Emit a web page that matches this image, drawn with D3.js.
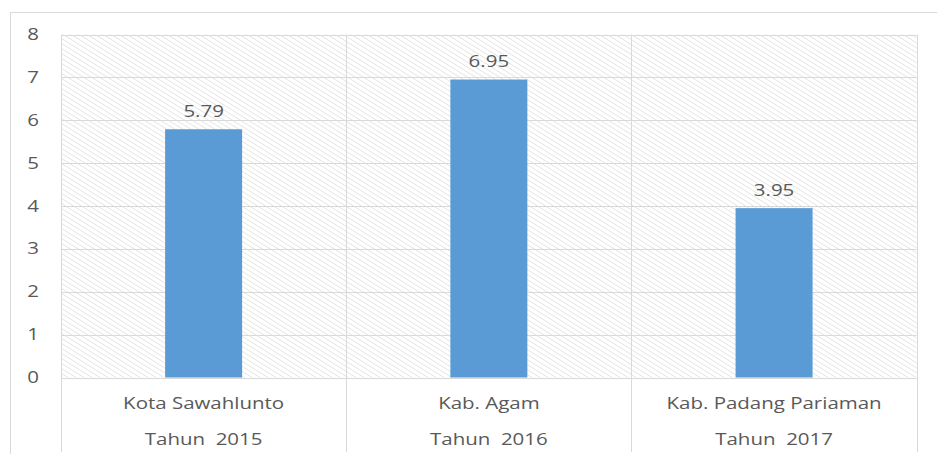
<!DOCTYPE html>
<html>
<head>
<meta charset="utf-8">
<script src="https://cdn.jsdelivr.net/npm/d3@7"></script>
<style>
  body { margin: 0; background: #fff; }
  text { font-family: "Open Sans", sans-serif; fill: #595959; white-space: pre; }
</style>
</head>
<body>
<div id="chart"></div>
<script>
// data
const regions = ["Kota Sawahlunto", "Kab. Agam", "Kab. Padang Pariaman"];
const years = ["Tahun  2015", "Tahun  2016", "Tahun  2017"];
const values = [5.79, 6.95, 3.95];
const yTicks = [0, 1, 2, 3, 4, 5, 6, 7, 8];

const width = 937, height = 454;
const margin = { top: 34.5, right: 20.3, bottom: 76.5, left: 61 };
const stretch = 1.28; // the picture is drawn a little wide

const svg = d3.select("#chart").append("svg")
    .attr("width", width)
    .attr("height", height);

// hatched plot background
const defs = svg.append("defs");
const pat = defs.append("pattern")
    .attr("id", "hatch")
    .attr("patternUnits", "userSpaceOnUse")
    .attr("width", 8)
    .attr("height", 5);
pat.append("path")
    .attr("d", "M-8,-5 L16,10 M-8,0 L8,10 M0,-5 L16,5")
    .attr("stroke", "#e0e0e0")
    .attr("stroke-width", 0.9);

// outer chart frame, runs off the right and bottom edge
svg.append("rect")
    .attr("x", 10.5).attr("y", 12.5)
    .attr("width", 1000).attr("height", 1000)
    .attr("fill", "none")
    .attr("stroke", "#d9d9d9");

const x = d3.scaleBand()
    .domain(regions)
    .range([margin.left, width - margin.right])
    .padding(0);

const y = d3.scaleLinear()
    .domain([0, 8])
    .range([height - margin.bottom, margin.top]);

svg.append("rect")
    .attr("x", x.range()[0]).attr("y", y(8))
    .attr("width", x.range()[1] - x.range()[0])
    .attr("height", y(0) - y(8))
    .attr("fill", "url(#hatch)");

// horizontal gridlines
svg.append("g")
    .selectAll("line")
    .data(yTicks)
    .join("line")
    .attr("x1", x.range()[0]).attr("x2", x.range()[1])
    .attr("y1", d => Math.round(y(d)) + 0.5)
    .attr("y2", d => Math.round(y(d)) + 0.5)
    .attr("stroke", "#d9d9d9");

// vertical category separators, down through the label area
const edges = regions.map(r => x(r)).concat([x.range()[1]]);
svg.append("g")
    .selectAll("line")
    .data(edges)
    .join("line")
    .attr("x1", d => Math.round(d) + 0.5).attr("x2", d => Math.round(d) + 0.5)
    .attr("y1", y(8)).attr("y2", 452)
    .attr("stroke", "#d9d9d9");

// y tick labels
svg.append("g")
    .selectAll("text")
    .data(yTicks)
    .join("text")
    .attr("transform", d => `translate(39,${y(d) + 5.5}) scale(${stretch},1)`)
    .attr("text-anchor", "end")
    .attr("font-size", 16)
    .text(d => d);

// bars
const barW = x.bandwidth() * 0.27;
svg.append("g")
    .selectAll("rect")
    .data(values)
    .join("rect")
    .attr("x", (d, i) => x(regions[i]) + (x.bandwidth() - barW) / 2)
    .attr("y", d => y(d))
    .attr("width", barW)
    .attr("height", d => y(0) - y(d))
    .attr("fill", "#5b9bd5");

// value labels
svg.append("g")
    .selectAll("text")
    .data(values)
    .join("text")
    .attr("transform", (d, i) => `translate(${x(regions[i]) + x.bandwidth() / 2},${y(d) - 12.5}) scale(${stretch},1)`)
    .attr("text-anchor", "middle")
    .attr("font-size", 16)
    .text(d => d.toFixed(2));

// category labels, two rows
svg.append("g")
    .selectAll("text")
    .data(regions)
    .join("text")
    .attr("transform", d => `translate(${x(d) + x.bandwidth() / 2},409) scale(${stretch},1)`)
    .attr("text-anchor", "middle")
    .attr("font-size", 16)
    .text(d => d);

svg.append("g")
    .selectAll("text")
    .data(years)
    .join("text")
    .attr("transform", (d, i) => `translate(${x(regions[i]) + x.bandwidth() / 2},444.5) scale(${stretch},1)`)
    .attr("text-anchor", "middle")
    .attr("font-size", 16)
    .text(d => d);
</script>
</body>
</html>
